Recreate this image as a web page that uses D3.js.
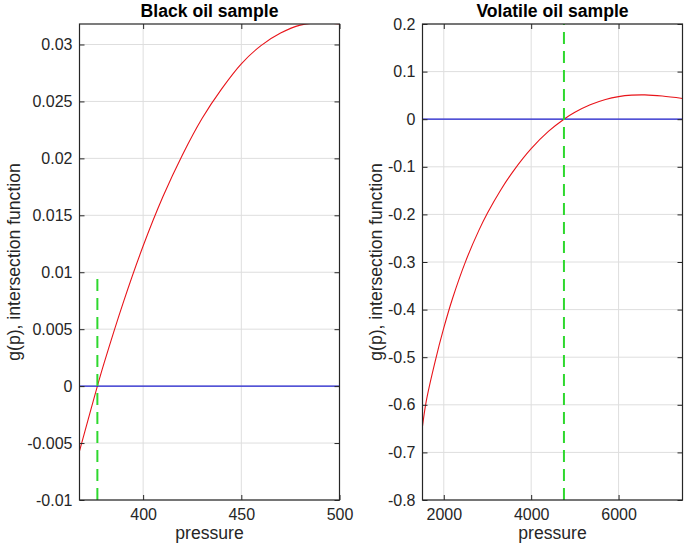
<!DOCTYPE html>
<html>
<head>
<meta charset="utf-8">
<script src="https://cdn.jsdelivr.net/npm/d3@7"></script>
<style>
  html, body { margin: 0; padding: 0; background: #ffffff; }
  svg { display: block; font-family: "Liberation Sans", Arial, Helvetica, sans-serif; }
</style>
</head>
<body>
<svg id="chart" width="685" height="557"></svg>
<script>
// ---------- data ----------
const blackTitle = "Black oil sample";
const blackPressure = [367.6, 370, 376.7, 380, 390, 400, 410, 420, 430, 440, 450, 460, 470, 480, 490, 500];
const blackG        = [-0.0057, -0.0042, 0, 0.00195, 0.0074, 0.0123, 0.0166, 0.0203, 0.0235, 0.0261, 0.0283, 0.0299, 0.0310, 0.0317, 0.0319, 0.0318];
const blackXDomain = [367.6, 500];
const blackYDomain = [-0.01, 0.0318];
const blackXTicks = [400, 450, 500];
const blackXTickLabels = ["400", "450", "500"];
const blackYTicks = [-0.01, -0.005, 0, 0.005, 0.01, 0.015, 0.02, 0.025, 0.03];
const blackYTickLabels = ["-0.01", "-0.005", "0", "0.005", "0.01", "0.015", "0.02", "0.025", "0.03"];
const blackRoot = 376.7;
const blackRootSpan = [-0.01, 0.01];

const volTitle = "Volatile oil sample";
const volPressure = [1513, 1600, 1800, 2000, 2200, 2500, 2800, 3000, 3300, 3600, 4000, 4400, 4750, 5000, 5350, 5700, 6000, 6300, 6600, 7000, 7463];
const volG        = [-0.645, -0.5916, -0.5096, -0.4386, -0.3766, -0.2986, -0.2341, -0.1971, -0.1491, -0.108, -0.062, -0.0252, 0, 0.0145, 0.0303, 0.0415, 0.0475, 0.0505, 0.0511, 0.0487, 0.0436];
const volXDomain = [1513, 7463];
const volYDomain = [-0.8, 0.2];
const volXTicks = [2000, 4000, 6000];
const volXTickLabels = ["2000", "4000", "6000"];
const volYTicks = [-0.8, -0.7, -0.6, -0.5, -0.4, -0.3, -0.2, -0.1, 0, 0.1, 0.2];
const volYTickLabels = ["-0.8", "-0.7", "-0.6", "-0.5", "-0.4", "-0.3", "-0.2", "-0.1", "0", "0.1", "0.2"];
const volRoot = 4750;
const volRootSpan = [-0.8, 0.2];

const xLabel = "pressure";
const yLabel = "g(p), intersection function";

// ---------- drawing ----------
const svg = d3.select("#chart");
svg.append("rect").attr("width", 685).attr("height", 557).attr("fill", "#ffffff");

function panel(cfg) {
  const x = d3.scaleLinear().domain(cfg.xDomain).range([cfg.left, cfg.right]);
  const y = d3.scaleLinear().domain(cfg.yDomain).range([cfg.bottom, cfg.top]);
  const g = svg.append("g");

  // grid
  g.append("g").selectAll("line").data(cfg.xTicks).join("line")
    .attr("x1", d => x(d)).attr("x2", d => x(d))
    .attr("y1", cfg.top).attr("y2", cfg.bottom)
    .attr("stroke", "#dedede").attr("stroke-width", 1);
  g.append("g").selectAll("line").data(cfg.yTicks).join("line")
    .attr("y1", d => y(d)).attr("y2", d => y(d))
    .attr("x1", cfg.left).attr("x2", cfg.right)
    .attr("stroke", "#dedede").attr("stroke-width", 1);

  const clipId = "clip" + cfg.id;
  svg.append("clipPath").attr("id", clipId).append("rect")
    .attr("x", cfg.left).attr("y", cfg.top)
    .attr("width", cfg.right - cfg.left).attr("height", cfg.bottom - cfg.top);
  const plot = g.append("g").attr("clip-path", `url(#${clipId})`);

  // red curve
  const line = d3.line().x(d => x(d[0])).y(d => y(d[1])).curve(d3.curveCatmullRom.alpha(0.5));
  plot.append("path").datum(d3.zip(cfg.px, cfg.py))
    .attr("d", line).attr("fill", "none").attr("stroke", "#e8141a").attr("stroke-width", 1.1);

  // zero line (blue)
  plot.append("line")
    .attr("x1", x(cfg.xDomain[0])).attr("x2", x(cfg.xDomain[1]))
    .attr("y1", y(0)).attr("y2", y(0))
    .attr("stroke", "#2020d0").attr("stroke-width", 1.2);

  // green dashed root line
  plot.append("line")
    .attr("x1", x(cfg.root)).attr("x2", x(cfg.root))
    .attr("y1", y(cfg.rootSpan[0])).attr("y2", y(cfg.rootSpan[1]))
    .attr("stroke", "#2ed82e").attr("stroke-width", 2)
    .attr("stroke-dasharray", "12,7");

  // axes with inward ticks
  const tl = 5;
  const ax = g.append("g").attr("transform", `translate(0,${cfg.bottom})`)
    .call(d3.axisBottom(x).tickValues(cfg.xTicks).tickFormat((d, i) => cfg.xTickLabels[i]).tickSize(-tl).tickPadding(9));
  const ay = g.append("g").attr("transform", `translate(${cfg.left},0)`)
    .call(d3.axisLeft(y).tickValues(cfg.yTicks).tickFormat((d, i) => cfg.yTickLabels[i]).tickSize(-tl).tickPadding(7));
  const at = g.append("g").attr("transform", `translate(0,${cfg.top})`)
    .call(d3.axisTop(x).tickValues(cfg.xTicks).tickFormat("").tickSize(-tl));
  const ar = g.append("g").attr("transform", `translate(${cfg.right},0)`)
    .call(d3.axisRight(y).tickValues(cfg.yTicks).tickFormat("").tickSize(-tl));
  [ax, ay, at, ar].forEach(a => {
    a.select(".domain").remove();
    a.selectAll(".tick line").attr("stroke", "#262626");
    a.selectAll("text").attr("fill", "#262626").attr("font-size", "16px")
      .attr("font-family", '"Liberation Sans", Arial, sans-serif');
  });

  // box
  g.append("rect").attr("x", cfg.left).attr("y", cfg.top)
    .attr("width", cfg.right - cfg.left).attr("height", cfg.bottom - cfg.top)
    .attr("fill", "none").attr("stroke", "#262626").attr("stroke-width", 1.2);

  // title
  g.append("text").attr("x", (cfg.left + cfg.right) / 2).attr("y", 17)
    .attr("text-anchor", "middle").attr("font-weight", "bold").attr("font-size", "17.6px")
    .attr("fill", "#000").text(cfg.title);
  // x label
  g.append("text").attr("x", (cfg.left + cfg.right) / 2).attr("y", 539)
    .attr("text-anchor", "middle").attr("font-size", "17.6px").attr("fill", "#262626").text(xLabel);
  // y label
  g.append("text")
    .attr("transform", `translate(${cfg.ylabelX},${(cfg.top + cfg.bottom) / 2}) rotate(-90)`)
    .attr("text-anchor", "middle").attr("font-size", "17.6px").attr("fill", "#262626").text(yLabel);
}

panel({
  id: "a", left: 79.5, right: 339.5, top: 24, bottom: 500, ylabelX: 20,
  xDomain: blackXDomain, yDomain: blackYDomain,
  xTicks: blackXTicks, xTickLabels: blackXTickLabels,
  yTicks: blackYTicks, yTickLabels: blackYTickLabels,
  px: blackPressure, py: blackG, root: blackRoot, rootSpan: blackRootSpan, title: blackTitle
});
panel({
  id: "b", left: 422.5, right: 682.5, top: 24, bottom: 500, ylabelX: 382,
  xDomain: volXDomain, yDomain: volYDomain,
  xTicks: volXTicks, xTickLabels: volXTickLabels,
  yTicks: volYTicks, yTickLabels: volYTickLabels,
  px: volPressure, py: volG, root: volRoot, rootSpan: volRootSpan, title: volTitle
});
</script>
</body>
</html>
